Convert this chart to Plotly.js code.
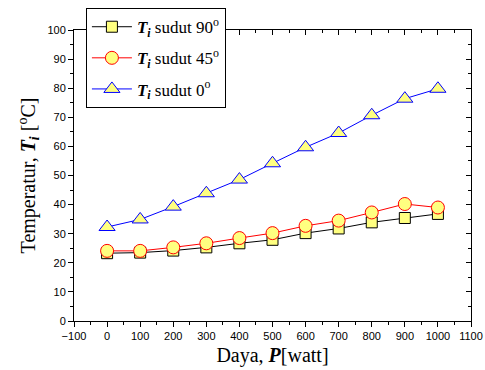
<!DOCTYPE html>
<html><head><meta charset="utf-8">
<script src="https://cdn.plot.ly/plotly-3.0.1.min.js"></script>
<style>body{margin:0;background:#fff}#c{width:485px;height:370px}</style>
</head><body><div id="c"></div>
<script>
const daya = [0,100,200,300,400,500,600,700,800,900,1000];
const sudut90 = [23.3,23.5,24.2,25.3,26.7,27.9,30.2,31.8,33.9,35.4,36.8];
const sudut45 = [24.1,24.1,25.3,26.7,28.5,30.2,32.7,34.5,37.3,40.2,39.0];
const sudut0 = [32.3,34.9,39.3,43.9,48.6,54.2,59.7,64.6,70.7,76.4,79.8];
const names = ['<b><i>T</i></b><sub><b><i>i</i></b></sub> sudut 90<sup>o</sup>',
               '<b><i>T</i></b><sub><b><i>i</i></b></sub> sudut 45<sup>o</sup>',
               '<b><i>T</i></b><sub><b><i>i</i></b></sub> sudut 0<sup>o</sup>'];
const fill = '#ffff80';
function tr(y, name, color, symbol, size, g){
  return {x: daya, y: y, name: name, legendgroup: g, type:'scatter', mode:'lines+markers',
    line:{color: color, width:1},
    marker:{symbol: symbol, size: size, color: fill, line:{color: color, width:1}}};
}
const data = [
  tr(sudut90, names[0], '#000000', 'square', 11, 'a'),
  tr(sudut45, names[1], '#ff0000', 'circle', 13, 'b'),
  tr(sudut0, names[2], '#0000ff', 'triangle-up', 14, 'c'),
  {x:[0], y:[0], xaxis:'x2', yaxis:'y2', showlegend:false, mode:'markers', marker:{opacity:0}, hoverinfo:'skip'}
];
const tickfont = {family:'Liberation Sans, Arial, sans-serif', size:11, color:'#000'};
const layout = {
  width:485, height:370,
  margin:{l:74, r:14, t:30, b:49, autoexpand:false},
  paper_bgcolor:'#fff', plot_bgcolor:'#fff',
  font:{family:'Liberation Serif, Times New Roman, serif', color:'#000'},
  xaxis:{range:[-100,1100], dtick:100, tick0:0, showgrid:false, zeroline:false,
    showline:true, linecolor:'#000', linewidth:1, ticks:'outside', ticklen:5, tickcolor:'#000',
    minor:{ticks:'outside', ticklen:3, dtick:50, tickcolor:'#000', showgrid:false},
    tickfont: tickfont,
    title:{text:'Daya, <b><i>P</i></b>[watt]', font:{family:'Liberation Serif, Times New Roman, serif', size:20}, standoff:6}},
  yaxis:{range:[0,100], dtick:10, showgrid:false, zeroline:false,
    showline:true, linecolor:'#000', linewidth:1, ticks:'outside', ticklen:5, tickcolor:'#000',
    minor:{ticks:'outside', ticklen:3, dtick:5, tickcolor:'#000', showgrid:false},
    tickfont: tickfont,
    title:{text:'Temperatur, <b><i>T</i></b><sub><b><i>i</i></b></sub> [<sup>o</sup>C]', font:{family:'Liberation Serif, Times New Roman, serif', size:20}, standoff:6}},
  xaxis2:{overlaying:'x', matches:'x', side:'top', range:[-100,1100], dtick:100, showgrid:false, zeroline:false,
    showline:true, linecolor:'#000', linewidth:1, ticks:'inside', ticklen:5, tickcolor:'#000',
    minor:{ticks:'inside', ticklen:3, dtick:50, tickcolor:'#000'}, showticklabels:false},
  yaxis2:{overlaying:'y', side:'right', range:[0,100], dtick:10, showgrid:false, zeroline:false,
    showline:true, linecolor:'#000', linewidth:1, ticks:'inside', ticklen:5, tickcolor:'#000',
    minor:{ticks:'inside', ticklen:3, dtick:5, tickcolor:'#000'}, showticklabels:false},
  showlegend:true,
  legend:{x:0.03, y:1.075, xanchor:'left', yanchor:'top', bgcolor:'#fff', bordercolor:'#000', borderwidth:1,
    traceorder:'grouped', tracegroupgap:6,
    font:{family:'Liberation Serif, Times New Roman, serif', size:17, color:'#000'}, itemwidth:40}
};
Plotly.newPlot('c', data, layout, {staticPlot:true, displayModeBar:false});
</script></body></html>
